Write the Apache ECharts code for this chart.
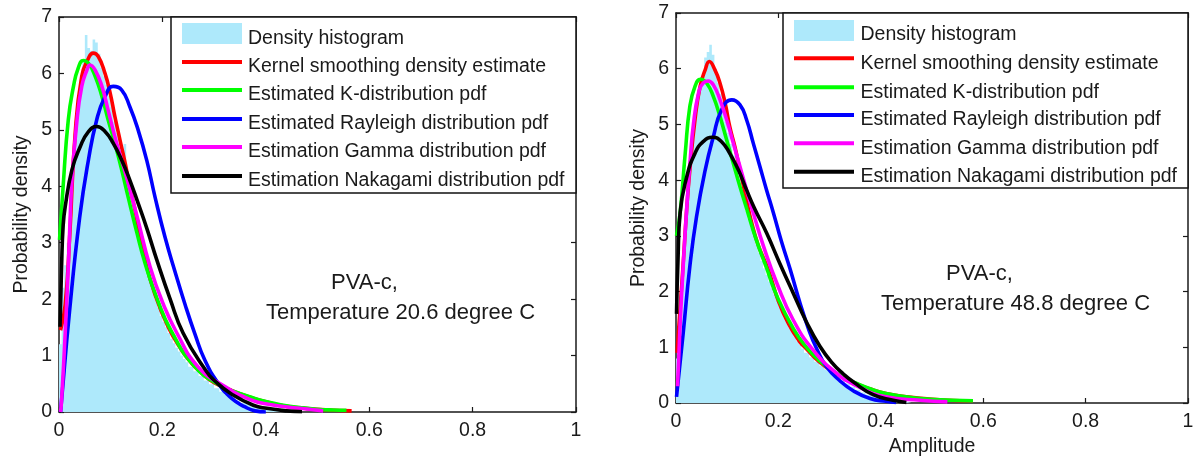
<!DOCTYPE html>
<html><head><meta charset="utf-8">
<script src="https://cdn.jsdelivr.net/npm/echarts@6/dist/echarts.min.js"></script>
<style>html,body{margin:0;padding:0;background:#fff}#c{width:1195px;height:459px}</style>
</head><body><div id="c"></div>
<script>
// ---------- shared labels / ticks ----------
const legendNames = ['Density histogram','Kernel smoothing density estimate','Estimated K-distribution pdf','Estimated Rayleigh distribution pdf','Estimation Gamma distribution pdf','Estimation Nakagami distribution pdf'];
const yAxisTitle = 'Probability density';
const xAxisTitleRight = 'Amplitude';
const xTickValues = [0, 0.2, 0.4, 0.6, 0.8, 1];
const yTickValues = [0, 1, 2, 3, 4, 5, 6, 7];
const leftNote = ['PVA-c,', 'Temperature 20.6 degree C'];
const rightNote = ['PVA-c,', 'Temperature 48.8 degree C'];

// ---------- left panel (20.6 C) ----------
const leftHistStart = [0,0.005,0.01,0.015,0.02,0.025,0.03,0.035,0.04,0.045,0.05,0.055,0.06,0.065,0.07,0.075,0.08,0.085,0.09,0.095,0.1,0.105,0.11,0.115,0.12,0.125,0.13,0.135,0.14,0.145,0.15,0.155,0.16,0.165,0.17,0.175,0.18,0.185,0.19,0.195,0.2,0.205,0.21,0.215,0.22,0.225,0.23,0.235,0.24,0.245,0.25,0.26,0.27,0.28,0.29,0.3,0.31,0.32,0.33,0.34,0.35,0.36,0.37,0.38,0.39,0.4,0.41,0.42,0.43,0.44,0.45,0.46];
const leftHistValue = [1.2,2.2,2.6,3.0,3.5,4.3,5.0,5.5,5.9,6.2,6.68,6.45,6.4,6.6,6.55,6.35,6.1,5.95,5.8,5.6,5.4,5.15,4.95,4.75,4.55,4.75,4.2,3.95,3.7,3.5,3.3,3.1,2.9,2.7,2.5,2.35,2.15,2.0,1.85,1.7,1.6,1.5,1.4,1.3,1.22,1.14,1.07,1.0,0.94,0.88,0.8,0.72,0.64,0.56,0.49,0.42,0.36,0.3,0.25,0.2,0.16,0.13,0.1,0.08,0.06,0.045,0.035,0.025,0.02,0.015,0.01,0];
const leftKernel = [[0.003,1.45],[0.012,1.9],[0.021,3.17],[0.031,4.9],[0.044,5.95],[0.057,6.27],[0.066,6.36],[0.076,6.3],[0.089,6.0],[0.099,5.65],[0.108,5.24],[0.118,4.82],[0.128,4.41],[0.137,3.99],[0.147,3.58],[0.165,2.75],[0.185,2.1],[0.211,1.51],[0.237,1.1],[0.257,0.86],[0.276,0.69],[0.3,0.52],[0.337,0.37],[0.37,0.26],[0.4,0.18],[0.44,0.1],[0.48,0.06],[0.52,0.035],[0.566,0.02]];
const leftK = [[0.001,3.05],[0.008,4.0],[0.018,5.18],[0.028,5.77],[0.037,6.09],[0.047,6.23],[0.057,6.18],[0.07,5.95],[0.083,5.59],[0.095,5.18],[0.108,4.76],[0.121,4.3],[0.134,3.8],[0.15,3.2],[0.166,2.65],[0.19,2.0],[0.218,1.42],[0.263,0.8],[0.315,0.45],[0.337,0.37],[0.369,0.27],[0.402,0.18],[0.434,0.12],[0.466,0.08],[0.498,0.05],[0.53,0.035],[0.556,0.03]];
const leftRayleigh = [[0.003,0],[0.005,0.21],[0.02,1.75],[0.04,3.45],[0.057,4.47],[0.073,5.18],[0.089,5.59],[0.105,5.77],[0.121,5.71],[0.137,5.41],[0.153,5.0],[0.17,4.45],[0.186,3.8],[0.205,3.1],[0.224,2.5],[0.244,1.9],[0.263,1.38],[0.282,0.92],[0.308,0.51],[0.334,0.24],[0.36,0.09],[0.379,0.02],[0.4,0]];
const leftGamma = [[0.003,0],[0.005,0.21],[0.012,1.4],[0.018,2.58],[0.021,3.3],[0.025,4.1],[0.034,5.1],[0.044,5.77],[0.054,6.06],[0.06,6.15],[0.07,6.06],[0.083,5.77],[0.095,5.35],[0.108,4.88],[0.121,4.47],[0.134,4.05],[0.15,3.5],[0.176,2.58],[0.2,1.95],[0.228,1.4],[0.269,0.8],[0.321,0.45],[0.37,0.22],[0.402,0.14],[0.466,0.065],[0.511,0.02]];
const leftNakagami = [[0.002,1.51],[0.005,2.58],[0.008,3.3],[0.012,3.64],[0.025,4.29],[0.041,4.7],[0.057,4.97],[0.073,5.06],[0.089,4.97],[0.105,4.76],[0.121,4.47],[0.137,4.11],[0.153,3.7],[0.17,3.25],[0.189,2.7],[0.215,2.0],[0.24,1.4],[0.279,0.8],[0.305,0.52],[0.337,0.3],[0.376,0.12],[0.402,0.065],[0.44,0.02],[0.47,0.005]];

// ---------- right panel (48.8 C) ----------
const rightHistStart = [0,0.005,0.01,0.015,0.02,0.025,0.03,0.035,0.04,0.045,0.05,0.055,0.06,0.065,0.07,0.075,0.08,0.085,0.09,0.095,0.1,0.105,0.11,0.115,0.12,0.125,0.13,0.135,0.14,0.145,0.15,0.155,0.16,0.165,0.17,0.175,0.18,0.185,0.19,0.195,0.2,0.205,0.21,0.215,0.22,0.225,0.23,0.235,0.24,0.245,0.25,0.26,0.27,0.28,0.29,0.3,0.31,0.32,0.33,0.34,0.35,0.36,0.37,0.38,0.39,0.4,0.41,0.42,0.43,0.44,0.45,0.46];
const rightHistValue = [0.8,1.6,2.3,3.0,3.7,4.2,4.7,5.1,5.4,5.65,5.85,6.2,6.3,6.43,6.25,6.0,5.75,5.55,5.3,5.05,4.85,4.65,4.45,4.25,4.05,3.85,3.65,3.45,3.3,3.15,3.0,2.85,2.7,2.55,2.42,2.3,2.18,2.06,1.95,1.84,1.73,1.63,1.53,1.44,1.35,1.27,1.19,1.11,1.04,0.98,0.9,0.82,0.74,0.67,0.6,0.53,0.47,0.41,0.35,0.29,0.24,0.19,0.15,0.12,0.09,0.07,0.05,0.04,0.03,0.02,0.015,0];
const rightKernel = [[0.002,0.9],[0.008,1.7],[0.014,2.5],[0.021,3.5],[0.027,4.18],[0.037,5.08],[0.047,5.68],[0.057,5.98],[0.065,6.13],[0.076,5.98],[0.086,5.74],[0.096,5.38],[0.105,4.96],[0.115,4.6],[0.125,4.18],[0.135,3.76],[0.145,3.34],[0.16,2.85],[0.18,2.4],[0.2,1.83],[0.22,1.42],[0.24,1.12],[0.255,0.97],[0.28,0.74],[0.314,0.52],[0.346,0.37],[0.38,0.25],[0.41,0.17],[0.45,0.11],[0.49,0.075],[0.53,0.05],[0.58,0.04]];
const rightK = [[0.001,3.0],[0.008,3.41],[0.018,4.48],[0.027,5.32],[0.037,5.68],[0.048,5.81],[0.06,5.74],[0.073,5.5],[0.086,5.14],[0.099,4.72],[0.112,4.3],[0.125,3.88],[0.136,3.55],[0.156,2.95],[0.177,2.42],[0.197,1.92],[0.23,1.32],[0.255,1.0],[0.28,0.76],[0.314,0.53],[0.346,0.38],[0.372,0.28],[0.41,0.17],[0.477,0.08],[0.54,0.05],[0.58,0.04]];
const rightRayleigh = [[0.001,0.11],[0.014,1.25],[0.027,2.45],[0.04,3.34],[0.057,4.18],[0.073,4.78],[0.089,5.26],[0.109,5.44],[0.125,5.35],[0.138,5.08],[0.151,4.66],[0.164,4.24],[0.177,3.82],[0.19,3.42],[0.206,2.9],[0.223,2.4],[0.242,1.8],[0.26,1.3],[0.275,0.97],[0.294,0.65],[0.32,0.4],[0.346,0.22],[0.379,0.08],[0.41,0.03],[0.43,0.01]];
const rightGamma = [[0.003,0.3],[0.008,1.4],[0.014,2.45],[0.021,3.5],[0.028,4.4],[0.034,5.0],[0.044,5.56],[0.053,5.74],[0.063,5.78],[0.073,5.71],[0.086,5.44],[0.099,5.08],[0.112,4.66],[0.125,4.24],[0.138,3.82],[0.151,3.41],[0.171,2.81],[0.197,2.15],[0.229,1.49],[0.268,0.95],[0.314,0.53],[0.346,0.34],[0.41,0.11],[0.477,0.05],[0.53,0.02]];
const rightNakagami = [[0.001,1.6],[0.004,2.6],[0.008,3.41],[0.021,4.06],[0.037,4.48],[0.053,4.69],[0.072,4.77],[0.089,4.69],[0.105,4.48],[0.122,4.18],[0.138,3.82],[0.153,3.5],[0.177,3.05],[0.203,2.5],[0.229,1.97],[0.255,1.45],[0.281,1.02],[0.305,0.72],[0.327,0.52],[0.346,0.38],[0.385,0.15],[0.424,0.05],[0.45,0.01]];

// ---------- styling ----------
const FONT = '"Liberation Sans", Arial, sans-serif';
const TXT = '#1a1a1a';
const AX = '#1a1a1a';
const histColor = '#aee9fb';
const lineColors = ['#ff0000', '#00ff00', '#0000ff', '#ff00ff', '#000000'];

const chart = echarts.init(document.getElementById('c'), null, {renderer: 'canvas'});

function xAx(grid, pos, labels, name) {
  return {
    type: 'value', gridIndex: grid, position: pos,
    min: xTickValues[0], max: xTickValues[xTickValues.length - 1],
    interval: xTickValues[1] - xTickValues[0],
    axisLine: {show: true, onZero: false, lineStyle: {color: AX, width: 1.5}},
    axisTick: {show: true, inside: true, length: 5, lineStyle: {color: AX, width: 1.2}},
    axisLabel: {show: labels, color: TXT, fontSize: 19.5, fontFamily: FONT, margin: 9},
    splitLine: {show: false},
    name: name || '', nameLocation: 'middle', nameGap: 25,
    nameTextStyle: {color: TXT, fontSize: 19.5, fontFamily: FONT}
  };
}
function yAx(grid, pos, labels, name) {
  return {
    type: 'value', gridIndex: grid, position: pos,
    min: yTickValues[0], max: yTickValues[yTickValues.length - 1],
    interval: yTickValues[1] - yTickValues[0],
    axisLine: {show: true, onZero: false, lineStyle: {color: AX, width: 1.5}},
    axisTick: {show: true, inside: true, length: 5, lineStyle: {color: AX, width: 1.2}},
    axisLabel: {show: labels, color: TXT, fontSize: 19.5, fontFamily: FONT, margin: 7},
    splitLine: {show: false},
    name: name || '', nameLocation: 'middle', nameGap: 27,
    nameTextStyle: {color: TXT, fontSize: 19.5, fontFamily: FONT}
  };
}

function histSeries(starts, values, xi, yi) {
  return {
    type: 'line', name: legendNames[0], xAxisIndex: xi, yAxisIndex: yi,
    data: starts.map((s, i) => [s, values[i]]),
    step: 'end', symbol: 'none', showSymbol: false,
    lineStyle: {width: 0, color: histColor},
    areaStyle: {color: histColor, opacity: 1},
    z: 1, silent: true
  };
}
function curve(idx, data, xi, yi) {
  return {
    type: 'line', name: legendNames[idx + 1], xAxisIndex: xi, yAxisIndex: yi,
    data: data, symbol: 'none', showSymbol: false,
    smooth: 0.5,
    lineStyle: {color: lineColors[idx], width: 3.6},
    itemStyle: {color: lineColors[idx]},
    z: 2 + idx, silent: true
  };
}

function legendBlock(box, swX, swW, histTop, histH, lineYs, textX, textYs) {
  const els = [];
  els.push({type: 'rect', shape: {x: box.x, y: box.y, width: box.w, height: box.h},
    style: {fill: '#fff', stroke: '#111', lineWidth: 1.5}, z: 50});
  els.push({type: 'rect', shape: {x: swX, y: histTop, width: swW, height: histH},
    style: {fill: histColor}, z: 51});
  lineYs.forEach((y, i) => {
    els.push({type: 'line', shape: {x1: swX, y1: y, x2: swX + swW, y2: y},
      style: {stroke: lineColors[i], lineWidth: 4}, z: 51});
  });
  legendNames.forEach((n, i) => {
    els.push({type: 'text', x: textX, y: textYs[i],
      style: {text: n, fill: TXT, font: '19.5px ' + FONT, textVerticalAlign: 'middle', verticalAlign: 'middle', textAlign: 'left', align: 'left'}, z: 52});
  });
  return els;
}
function note(lines, xs, ys) {
  return lines.map((t, i) => ({type: 'text', x: xs[i], y: ys[i],
    style: {text: t, fill: TXT, font: '22px ' + FONT, verticalAlign: 'middle', textVerticalAlign: 'middle', align: 'left', textAlign: 'left'}, z: 40}));
}

const option = {
  animation: false,
  backgroundColor: '#ffffff',
  textStyle: {fontFamily: FONT},
  grid: [
    {left: 59, top: 17, width: 517, height: 395, outerBoundsMode: 'none', containLabel: false},
    {left: 676, top: 13, width: 512, height: 390, outerBoundsMode: 'none', containLabel: false}
  ],
  xAxis: [
    xAx(0, 'bottom', true), xAx(0, 'top', false),
    xAx(1, 'bottom', true, xAxisTitleRight), xAx(1, 'top', false)
  ],
  yAxis: [
    yAx(0, 'left', true, yAxisTitle), yAx(0, 'right', false),
    yAx(1, 'left', true, yAxisTitle), yAx(1, 'right', false)
  ],
  series: [
    histSeries(leftHistStart, leftHistValue, 0, 0),
    curve(0, leftKernel, 0, 0), curve(1, leftK, 0, 0), curve(2, leftRayleigh, 0, 0),
    curve(3, leftGamma, 0, 0), curve(4, leftNakagami, 0, 0),
    histSeries(rightHistStart, rightHistValue, 2, 2),
    curve(0, rightKernel, 2, 2), curve(1, rightK, 2, 2), curve(2, rightRayleigh, 2, 2),
    curve(3, rightGamma, 2, 2), curve(4, rightNakagami, 2, 2)
  ],
  graphic: [].concat(
    legendBlock({x: 171, y: 17, w: 405, h: 176}, 182, 60, 23, 21, [62, 90, 119, 147, 176], 248, [38.5, 67, 95, 124, 152, 181]),
    legendBlock({x: 783, y: 13, w: 405, h: 175}, 794, 60, 20, 21, [58.3, 87.3, 115, 143.3, 171.7], 860.5, [35, 63.3, 92.3, 120, 148.3, 176.7]),
    note(leftNote, [331, 266], [283, 313]),
    note(rightNote, [946, 881], [274, 304])
  )
};
chart.setOption(option);
</script>
</body></html>
